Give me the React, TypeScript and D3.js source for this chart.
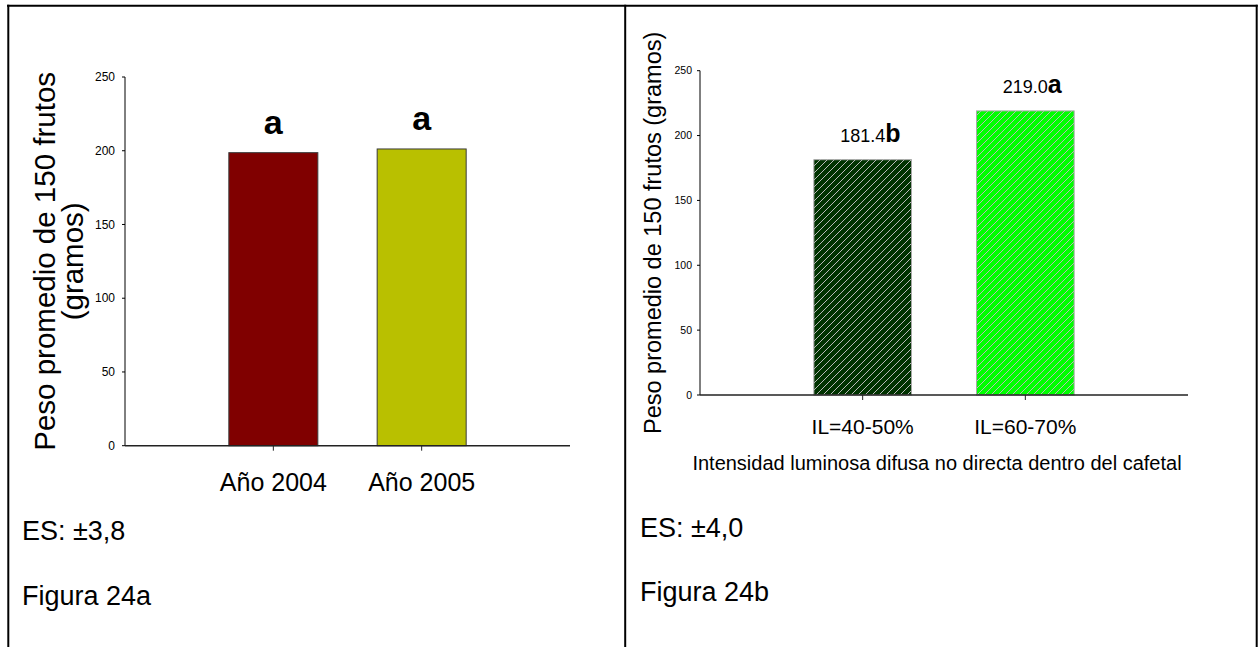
import React, { useEffect, useRef } from 'react';
import * as d3 from 'd3';

const W = 1258;
const H = 647;

// Figura 24a: fruit weight by year
const yearCategories = ['Año 2004', 'Año 2005'];
const yearValues = [198.7, 201.2];
const yearLetters = ['a', 'a'];
const yearFills = ['#800000', '#b9c000'];

// Figura 24b: fruit weight by diffuse light intensity
const lightCategories = ['IL=40-50%', 'IL=60-70%'];
const lightValues = [181.4, 219.0];
const lightLetters = ['b', 'a'];
const lightFills = ['#003300', '#00ff00'];

const yTickValues = [0, 50, 100, 150, 200, 250];
const yDomainMax = 250;

const FONT = "'Liberation Sans', Arial, Helvetica, sans-serif";

export default function App() {
  const ref = useRef<SVGSVGElement | null>(null);

  useEffect(() => {
    const svg = d3.select(ref.current);
    svg.selectAll('*').remove();

    // hatch pattern used by the right-hand bars
    const defs = svg.append('defs');
    lightFills.forEach((fill, i) => {
      const p = defs
        .append('pattern')
        .attr('id', `hatch-${i}`)
        .attr('patternUnits', 'userSpaceOnUse')
        .attr('width', 7)
        .attr('height', 7);
      p.append('rect').attr('width', 7).attr('height', 7).attr('fill', fill);
      p.append('path')
        .attr('d', 'M-1,1 l2,-2 M0,7 l7,-7 M6,8 l2,-2')
        .attr('stroke', '#b8b8b8')
        .attr('stroke-width', 1);
    });

    // table borders framing the two figures
    const frame = svg.append('g').attr('stroke', '#000').attr('stroke-width', 2);
    frame.append('line').attr('x1', 7).attr('x2', 1257.7).attr('y1', 5.7).attr('y2', 5.7);
    frame.append('line').attr('x1', 8.3).attr('x2', 8.3).attr('y1', 4.7).attr('y2', H);
    frame.append('line').attr('x1', 625.2).attr('x2', 625.2).attr('y1', 4.7).attr('y2', H);
    frame.append('line').attr('x1', 1256.7).attr('x2', 1256.7).attr('y1', 4.7).attr('y2', H);

    type Panel = {
      left: number;
      right: number;
      top: number;
      bottom: number;
      categories: string[];
      values: number[];
      fills: (i: number) => string;
      barStroke: string;
      tickFont: number;
      tickGap: number;
      catFont: number;
      catBaseline: number;
    };

    const drawPanel = (p: Panel) => {
      const g = svg.append('g').attr('font-family', FONT);
      const x = d3.scalePoint<string>().domain(p.categories).range([p.left, p.right]).padding(1);
      const y = d3.scaleLinear().domain([0, yDomainMax]).range([p.bottom, p.top]);
      const bw = x.step() * 0.6;

      // bars
      g.selectAll('rect.bar')
        .data(p.values)
        .join('rect')
        .attr('class', 'bar')
        .attr('x', (_, i) => (x(p.categories[i]) as number) - bw / 2)
        .attr('y', (d) => y(d))
        .attr('width', bw)
        .attr('height', (d) => y(0) - y(d))
        .attr('fill', (_, i) => p.fills(i))
        .attr('stroke', p.barStroke)
        .attr('stroke-width', 1);

      // y axis
      g.append('line')
        .attr('x1', p.left).attr('x2', p.left)
        .attr('y1', y(yDomainMax)).attr('y2', y(0))
        .attr('stroke', '#000').attr('stroke-width', 1);
      g.selectAll('line.ytick')
        .data(yTickValues)
        .join('line')
        .attr('class', 'ytick')
        .attr('x1', p.left - 3).attr('x2', p.left)
        .attr('y1', (d) => y(d)).attr('y2', (d) => y(d))
        .attr('stroke', '#000');
      g.selectAll('text.ytick')
        .data(yTickValues)
        .join('text')
        .attr('class', 'ytick')
        .attr('x', p.left - p.tickGap)
        .attr('y', (d) => y(d))
        .attr('dy', '0.35em')
        .attr('text-anchor', 'end')
        .attr('font-size', p.tickFont)
        .attr('fill', '#000')
        .text((d) => String(d));

      // x axis
      g.append('line')
        .attr('x1', p.left).attr('x2', p.right)
        .attr('y1', y(0)).attr('y2', y(0))
        .attr('stroke', '#222').attr('stroke-width', 1.6);
      g.selectAll('line.xtick')
        .data(p.categories)
        .join('line')
        .attr('class', 'xtick')
        .attr('x1', (d) => x(d) as number).attr('x2', (d) => x(d) as number)
        .attr('y1', y(0)).attr('y2', y(0) + 5)
        .attr('stroke', '#222');
      g.selectAll('text.xcat')
        .data(p.categories)
        .join('text')
        .attr('class', 'xcat')
        .attr('x', (d) => x(d) as number)
        .attr('y', p.catBaseline)
        .attr('text-anchor', 'middle')
        .attr('font-size', p.catFont)
        .attr('fill', '#000')
        .text((d) => d);

      return { g, x, y };
    };

    // ---- Figura 24a ----
    const a = drawPanel({
      left: 125,
      right: 570,
      top: 77,
      bottom: 445.7,
      categories: yearCategories,
      values: yearValues,
      fills: (i) => yearFills[i],
      barStroke: '#3a3a3a',
      tickFont: 12,
      tickGap: 10,
      catFont: 25,
      catBaseline: 491,
    });
    a.g.selectAll('text.letter')
      .data(yearValues)
      .join('text')
      .attr('class', 'letter')
      .attr('x', (_, i) => a.x(yearCategories[i]) as number)
      .attr('y', (d) => a.y(d) - 19)
      .attr('text-anchor', 'middle')
      .attr('font-size', 34)
      .attr('font-weight', 'bold')
      .text((_, i) => yearLetters[i]);
    const aMid = (a.y(0) + a.y(yDomainMax)) / 2;
    const aLabel = a.g.append('text')
      .attr('transform', `translate(55,${aMid}) rotate(-90)`)
      .attr('text-anchor', 'middle')
      .attr('font-size', 29.5);
    aLabel.append('tspan').attr('x', 0).attr('y', 0).text('Peso promedio de 150 frutos');
    aLabel.append('tspan').attr('x', 0).attr('y', 28).text('(gramos)');

    // ---- Figura 24b ----
    const b = drawPanel({
      left: 700,
      right: 1188,
      top: 70.7,
      bottom: 395,
      categories: lightCategories,
      values: lightValues,
      fills: (i) => `url(#hatch-${i})`,
      barStroke: '#a8a8a8',
      tickFont: 10.5,
      tickGap: 8,
      catFont: 21,
      catBaseline: 434,
    });
    lightValues.forEach((v, i) => {
      const cx = b.x(lightCategories[i]) as number;
      const ty = b.y(v) - 17.5;
      const num = b.g.append('text')
        .attr('x', cx)
        .attr('y', ty)
        .attr('text-anchor', 'middle')
        .attr('font-size', 18)
        .text(v.toFixed(1));
      const len = (num.node() as SVGTextElement).getComputedTextLength();
      b.g.append('text')
        .attr('x', cx + len / 2)
        .attr('y', ty)
        .attr('font-size', 25)
        .attr('font-weight', 'bold')
        .text(lightLetters[i]);
    });
    const bMid = (b.y(0) + b.y(yDomainMax)) / 2;
    b.g.append('text')
      .attr('transform', `translate(661,${bMid}) rotate(-90)`)
      .attr('text-anchor', 'middle')
      .attr('font-size', 23.5)
      .text('Peso promedio de 150 frutos (gramos)');
    b.g.append('text')
      .attr('x', 937)
      .attr('y', 470)
      .attr('text-anchor', 'middle')
      .attr('font-size', 20)
      .text('Intensidad luminosa difusa no directa dentro del cafetal');

    // notes under each figure
    const notes = svg.append('g').attr('font-family', FONT).attr('font-size', 27).attr('fill', '#000');
    notes.append('text').attr('x', 22).attr('y', 540).text('ES: ±3,8');
    notes.append('text').attr('x', 22).attr('y', 605).text('Figura 24a');
    notes.append('text').attr('x', 640).attr('y', 537).text('ES: ±4,0');
    notes.append('text').attr('x', 640).attr('y', 601).text('Figura 24b');
  }, []);

  return (
    <svg
      ref={ref}
      width={W}
      height={H}
      style={{ position: 'absolute', left: 0, top: 0, background: '#fff' }}
    />
  );
}
